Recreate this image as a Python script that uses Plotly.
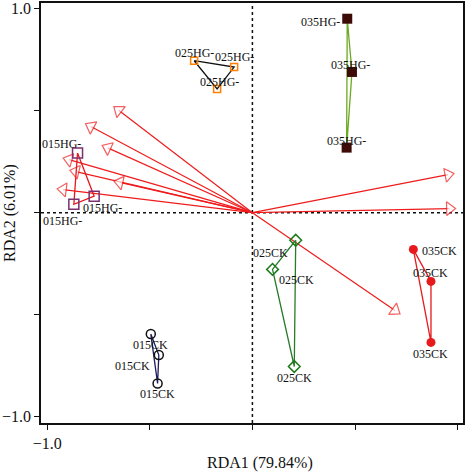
import plotly.graph_objects as go

# ---------------- data ----------------
groups = ["035HG-", "025HG-", "015HG-", "015CK", "025CK", "035CK"]
hg035_x = [0.462, 0.485, 0.459]
hg035_y = [0.951, 0.690, 0.319]
hg025_x = [-0.284, -0.089, -0.172]
hg025_y = [0.745, 0.714, 0.607]
hg015_x = [-0.852, -0.771, -0.870]
hg015_y = [0.293, 0.081, 0.041]
ck015_x = [-0.495, -0.456, -0.462]
ck015_y = [-0.595, -0.698, -0.837]
ck025_x = [0.211, 0.098, 0.204]
ck025_y = [-0.135, -0.278, -0.754]
ck035_x = [0.784, 0.870, 0.870]
ck035_y = [-0.180, -0.337, -0.636]

env_x = [-0.675, -0.813, -0.732, -0.922, -0.889, -0.675, -0.951, 0.982, 0.990, 0.719]
env_y = [0.520, 0.436, 0.330, 0.268, 0.208, 0.155, 0.117, 0.192, 0.021, -0.496]

tick_vals = [-1.0, -0.5, 0.0, 0.5, 1.0]
tick_text = ["\u22121.0", "", "", "", "1.0"]

# ---------------- styles ----------------
FONT = "Liberation Serif"
styles = {
    "035HG-": dict(symbol="square", size=10, color="#3d0a08", lw=0, lc="#3d0a08", line="#6aaa1e"),
    "025HG-": dict(symbol="square-open", size=7, color="#ff8000", lw=1.5, lc="#ff8000", line="#111111"),
    "015HG-": dict(symbol="square-open", size=10, color="#7a3070", lw=1.5, lc="#7a3070", line="#e8191c"),
    "015CK": dict(symbol="circle-open", size=9, color="#111111", lw=1.5, lc="#111111", line="#1c1c5c"),
    "025CK": dict(symbol="diamond-open", size=9, color="#1a7a1a", lw=1.5, lc="#1a7a1a", line="#2a7a2a"),
    "035CK": dict(symbol="circle", size=9, color="#e8191c", lw=0, lc="#e8191c", line="#e8191c"),
}
# label offsets in px (xanchor, xshift, yshift) for each point
label_style = {
    "035HG-": [("right", -5, -3), ("center", -1, 7), ("center", 0, 7)],
    "025HG-": [("center", 0, 8), ("center", 0, 10), ("center", 2, 7)],
    "015HG-": [("right", 5, 9), ("left", -13, -12), ("right", 10, -17)],
    "015CK": [("center", 0, -11), ("right", -7, -11), ("center", 0, -11)],
    "025CK": [("right", -6, -13), ("left", 4, -11), ("center", 0, -11)],
    "035CK": [("left", 7, -2), ("center", 0, 8), ("center", 0, -12)],
}

data = {
    "035HG-": (hg035_x, hg035_y),
    "025HG-": (hg025_x, hg025_y),
    "015HG-": (hg015_x, hg015_y),
    "015CK": (ck015_x, ck015_y),
    "025CK": (ck025_x, ck025_y),
    "035CK": (ck035_x, ck035_y),
}

fig = go.Figure()

# zero reference lines
fig.add_shape(type="line", xref="x", yref="paper", x0=0, x1=0, y0=0, y1=1,
              line=dict(color="#111111", width=1.5, dash="dot"), layer="below")
fig.add_shape(type="line", xref="paper", yref="y", x0=0, x1=1, y0=0, y1=0,
              line=dict(color="#111111", width=1.5, dash="dot"), layer="below")

# environmental arrows
for ex, ey in zip(env_x, env_y):
    fig.add_trace(go.Scatter(
        x=[0, ex], y=[0, ey], mode="lines+markers",
        line=dict(color="#ee1c1c", width=1.2),
        marker=dict(symbol="triangle-up", size=[0, 12], color="white",
                    angleref="previous", standoff=6,
                    line=dict(color="#ee1c1c", width=1.2)),
        hoverinfo="skip", showlegend=False))

# group polygons and points
for g in groups:
    xs, ys = data[g]
    s = styles[g]
    fig.add_trace(go.Scatter(
        x=list(xs) + [xs[0]], y=list(ys) + [ys[0]], mode="lines",
        line=dict(color=s["line"], width=1.3), showlegend=False, hoverinfo="skip"))
for g in groups:
    xs, ys = data[g]
    s = styles[g]
    fig.add_trace(go.Scatter(
        x=xs, y=ys, mode="markers",
        marker=dict(symbol=s["symbol"], size=s["size"], color=s["color"],
                    line=dict(color=s["lc"], width=s["lw"])),
        showlegend=False, name=g))
    for (px, py), (xa, xs_, ys_) in zip(zip(xs, ys), label_style[g]):
        fig.add_annotation(x=px, y=py, text=g, showarrow=False,
                           xanchor=xa, yanchor="middle", xshift=xs_, yshift=ys_,
                           font=dict(family=FONT, size=12, color="#111111"))

# axis titles
fig.add_annotation(xref="paper", yref="paper", x=0.5, y=0, xshift=8, yshift=-40,
                   text="RDA1 (79.84%)", showarrow=False, xanchor="center", yanchor="middle",
                   font=dict(family=FONT, size=16, color="#111111"))
fig.add_annotation(xref="paper", yref="paper", x=0, y=0.5, xshift=-31,
                   text="RDA2 (6.01%)", showarrow=False, textangle=-90,
                   xanchor="center", yanchor="middle",
                   font=dict(family=FONT, size=16, color="#111111"))

axis_common = dict(
    tickmode="array", tickvals=tick_vals, ticktext=tick_text,
    ticks="outside", ticklen=5, tickwidth=1.2, tickcolor="#111111",
    showline=True, linecolor="#111111", linewidth=1.5, mirror=True,
    showgrid=False, zeroline=False,
    tickfont=dict(family=FONT, size=16, color="#111111"),
)
fig.update_xaxes(range=[-1.030, 1.026], **axis_common)
fig.update_yaxes(range=[-1.031, 1.028], **axis_common)

fig.update_layout(
    width=467, height=473,
    margin=dict(l=41, r=4, t=1, b=50),
    plot_bgcolor="white", paper_bgcolor="white",
    showlegend=False,
)

fig.write_html(
    "out.html",
    config={"displayModeBar": False},
    post_script="document.body.style.margin='0';document.body.style.overflow='hidden';",
)
